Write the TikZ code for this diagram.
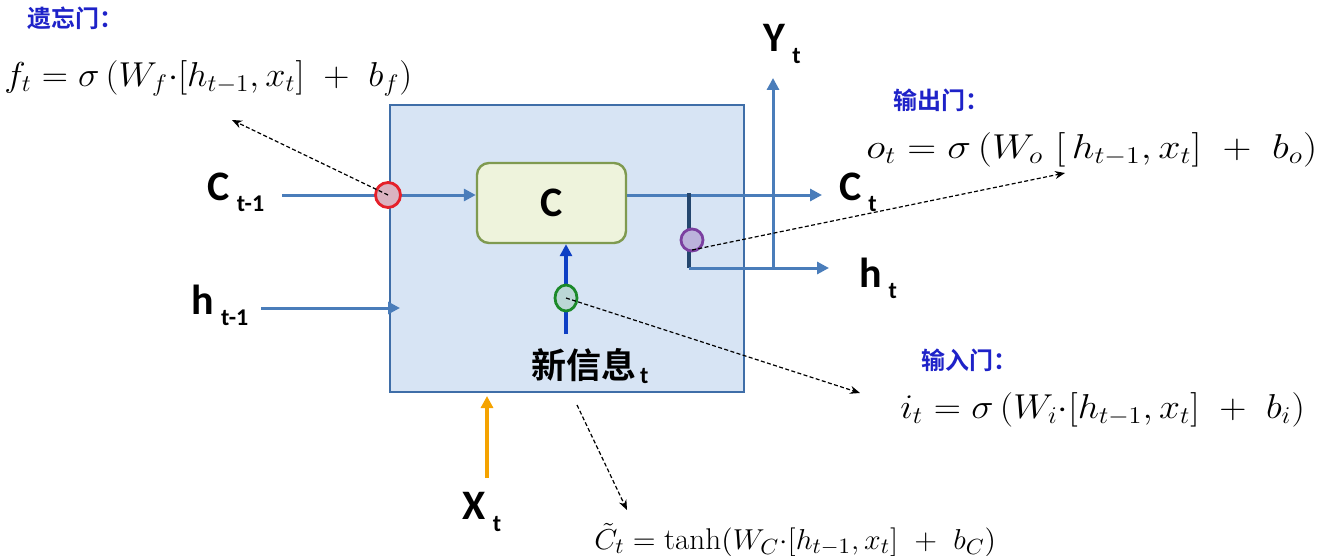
\documentclass[tikz,border=0pt]{standalone}
\usepackage{amsmath}
\usepackage{graphicx}
\usepackage{fontspec}
\setsansfont{Carlito}
\newfontfamily\cjk{Noto Sans CJK SC}[BoldFont={Noto Sans CJK SC Bold}]
\usepackage{tikz}
\usetikzlibrary{
    arrows.meta,
    positioning,
    shapes.geometric
}
\definecolor{cellbg}{HTML}{D7E4F4}
\definecolor{cellborder}{HTML}{3F6EA8}
\definecolor{flowblue}{HTML}{4A7DBA}
\definecolor{newblue}{HTML}{0E3FC4}
\definecolor{inorange}{HTML}{F5A300}
\definecolor{membg}{HTML}{EEF3DC}
\definecolor{memborder}{HTML}{7F9A50}
\definecolor{tapline}{HTML}{24466E}
\definecolor{forgetred}{HTML}{E5202A}
\definecolor{outpurple}{HTML}{7B3FA0}
\definecolor{ingreen}{HTML}{1C8A2A}
\definecolor{gatetext}{HTML}{1E22C8}

% label with a lowered index, as in the slide
\newcommand{\seqlabel}[2]{{\sffamily\bfseries\fontsize{21}{21}\selectfont #1\,\raisebox{-0.55ex}{\fontsize{12}{12}\selectfont #2}}}

\begin{document}
\begin{tikzpicture}[x=0.5pt, y=-0.5pt]

    \useasboundingbox (0,0) rectangle (1323,556);

    \tikzset{
        cellbox/.style={rectangle, draw=cellborder, fill=cellbg, line width=1pt,
            minimum width=177pt, minimum height=143.5pt, inner sep=0pt},
        membox/.style={rectangle, rounded corners=6pt, draw=memborder, fill=membg,
            line width=1.2pt, minimum width=74.5pt, minimum height=40pt},
        flow/.style={draw=flowblue, line width=1.5pt, -{Triangle[length=6pt, width=6pt]}},
        gate/.style={circle, line width=1.4pt, minimum size=11pt, inner sep=0pt},
        hint/.style={dash pattern=on 2pt off 1.2pt, line width=0.6pt, -{Stealth[length=5pt, width=4pt]}},
        gatename/.style={font=\cjk\bfseries\fontsize{12}{12}\selectfont, text=gatetext},
        formula/.style={font=\fontsize{17}{17}\selectfont, inner sep=0pt}
    }

    % Cell and memory
    \node[cellbox] (cell) at (567,248.5) {};
    \node[membox] (mem) at (551.5,203) {\sffamily\bfseries\fontsize{21}{21}\selectfont C};

    % Inputs and outputs
    \node (ctm1) at (236,192) {\seqlabel{C}{t-1}};
    \node (htm1) at (220,305) {\seqlabel{h}{t-1}};
    \node[anchor=west] (ct) at (832,192) {\seqlabel{C}{t}};
    \node[anchor=west] (ht) at (852,278) {\seqlabel{h}{t}};
    \node (yt) at (782,44) {\seqlabel{Y}{t}};
    \node (xt) at (482,512) {\seqlabel{X}{t}};
    \node (newinfo) at (590,366) {{\cjk\bfseries\fontsize{17.5}{17.5}\selectfont 新信息}\,\raisebox{-0.6ex}{\sffamily\bfseries\fontsize{12}{12}\selectfont t}};

    \coordinate (cin) at (282,195);
    \coordinate (hin) at (261,308);
    \coordinate (hend) at (400,308);
    \coordinate (tap) at (689,195);
    \coordinate (hcorner) at (689,268);
    \coordinate (ybase) at (773,268);
    \coordinate (ytip) at (773,78);
    \coordinate (cout) at (822,195);
    \coordinate (hout) at (829,268);
    \coordinate (newbase) at (566,334);
    \coordinate (xbase) at (487,478);
    \coordinate (xtip) at (487,396);

    % Flows
    \draw[flow] (cin) -- (mem.west |- cin);
    \draw[flow] (hin) -- (hend);
    \draw[draw=flowblue, line width=1.5pt] (mem.east |- cin) -- (tap);
    \draw[flow] (tap) -- (cout);
    \draw[draw=tapline, line width=1.8pt] ([yshift=1pt]tap) -- (hcorner);
    \draw[flow] (hcorner) -- (hout);
    \draw[flow] (ybase) -- (ytip);
    \draw[draw=newblue, line width=1.6pt, -{Triangle[length=6pt, width=6pt]}] (newbase) -- (mem.south -| newbase);
    \draw[draw=inorange, line width=1.6pt, -{Triangle[length=6pt, width=6pt]}] (xbase) -- (xtip);

    % Gates
    \node[gate, draw=forgetred, fill=forgetred!25!cellbg, minimum size=12.5pt] (fgate) at (388,195) {};
    \node[gate, draw=outpurple, fill=outpurple!30!cellbg] (ogate) at (692,240) {};
    \node[gate, ellipse, draw=ingreen, fill=ingreen!15!cellbg, minimum width=11pt, minimum height=13pt] (igate) at (566,298) {};

    % Gate equations
    \node[gatename, anchor=west] (fname) at (20,18) {遗忘门：};
    \node[formula, anchor=west] (fformula) at (4,78) {\scalebox{1.05}[1]{$f_t = \sigma\,(W_f{\cdot}[h_{t-1}, x_t]\ +\ b_f)$}};
    \node[gatename, anchor=west] (oname) at (886,100) {输出门：};
    \node[formula, anchor=west] (oformula) at (866,150) {\scalebox{1.16}[1]{$o_t = \sigma\,(W_o\ [\,h_{t-1}, x_t]\ +\ b_o)$}};
    \node[gatename, anchor=west] (iname) at (914,360) {输入门：};
    \node[formula, anchor=west] (iformula) at (900,410) {\scalebox{1.09}[1]{$i_t = \sigma\,(W_i{\cdot}[h_{t-1}, x_t]\ +\ b_i)$}};
    \node[formula, anchor=west, font=\fontsize{15}{15}\selectfont] (cformula) at (594,540) {\scalebox{1.04}[1]{$\tilde{C}_t = \tanh(W_C{\cdot}[h_{t-1}, x_t]\ +\ b_C)$}};

    % Pointers to equations
    \coordinate (fnote) at (232,120);
    \coordinate (onote) at (1065,173);
    \coordinate (inote) at (860,393);
    \coordinate (cstart) at (577,405);
    \coordinate (cnote) at (627,510);
    \draw[hint] (fgate.center) -- (fnote);
    \draw[hint] (ogate.center) ++(0,10) -- (onote);
    \draw[hint] (igate.center) -- (inote);
    \draw[hint] (cstart) -- (cnote);

\end{tikzpicture}
\end{document}
